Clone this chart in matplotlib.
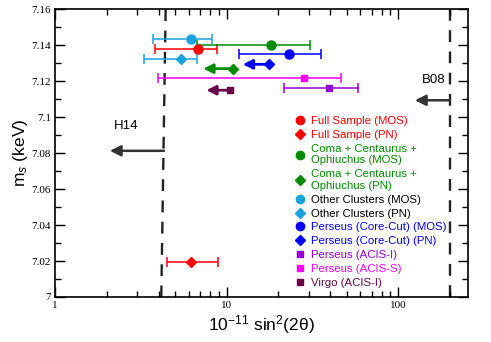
import numpy as np
import matplotlib
matplotlib.use("Agg")
import matplotlib.pyplot as plt
from matplotlib.lines import Line2D
from matplotlib.ticker import FixedLocator, MultipleLocator, NullFormatter

plt.rcParams["mathtext.fontset"] = "custom"
plt.rcParams["mathtext.rm"] = "Liberation Sans"
plt.rcParams["mathtext.it"] = "Liberation Sans:italic"

# --- data ---
labels = ["Full Sample (MOS)", "Full Sample (PN)",
          "Coma + Centaurus +\nOphiuchus (MOS)", "Coma + Centaurus +\nOphiuchus (PN)",
          "Other Clusters (MOS)", "Other Clusters (PN)",
          "Perseus (Core-Cut) (MOS)", "Perseus (Core-Cut) (PN)",
          "Perseus (ACIS-I)", "Perseus (ACIS-S)", "Virgo (ACIS-I)"]
mixing = [6.77, 6.16, 18.1, 10.9, 6.16, 5.38, 23.2, 17.7, 39.6, 28.2, 10.4]
mass = [7.1378, 7.0195, 7.1400, 7.1270, 7.1435, 7.1326, 7.1350, 7.1294, 7.1163, 7.1218, 7.1150]
err_lo = [3.81, 4.46, 6.67, np.nan, 3.70, 3.30, 11.8, np.nan, 21.6, 3.99, np.nan]
err_hi = [8.77, 8.85, 30.6, np.nan, 8.23, 6.67, 35.6, np.nan, 58.5, 46.1, np.nan]
limit_tip = [np.nan, np.nan, np.nan, 7.3, np.nan, np.nan, np.nan, 12.4, np.nan, np.nan, 7.6]
markers = ["o", "D", "o", "D", "o", "D", "o", "D", "s", "s", "s"]
colors = ["#ff0000", "#ff0000", "#008b00", "#008b00", "#1aa3dc", "#1aa3dc",
          "#0000ff", "#0000ff", "#9400d3", "#ff00ff", "#670748"]
text_colors = ["#ff0000", "#ff0000", "#008b00", "#008b00", "#000000", "#000000",
               "#0000ff", "#0000ff", "#9400d3", "#ff00ff", "#670748"]

# previous bounds (dashed lines)
h14_line_x = [4.4, 4.15]
h14_line_y = [7.16, 7.0]
b08_x = 200
h14_arrow = [(4.3, 7.0813), (2.08, 7.0813)]
b08_arrow = [(200, 7.1094), (125, 7.1094)]

fig = plt.figure(figsize=(4.91, 3.42), dpi=100)
ax = fig.add_axes([0.1126, 0.1316, 0.8412, 0.8412])

for i in range(len(labels)):
    ms = 6.5 if markers[i] == "o" else (5.5 if markers[i] == "D" else 4.8)
    if not np.isnan(err_lo[i]):
        xerr = [[mixing[i] - err_lo[i]], [err_hi[i] - mixing[i]]]
        ax.errorbar(mixing[i], mass[i], xerr=xerr, fmt=markers[i], color=colors[i],
                    ms=ms, elinewidth=1.1, capsize=3.5, capthick=1.1, zorder=3)
    else:
        ax.plot(mixing[i], mass[i], markers[i], color=colors[i], ms=ms, zorder=3)
        ax.annotate("", xy=(limit_tip[i], mass[i]), xytext=(mixing[i], mass[i]),
                    arrowprops=dict(arrowstyle="-|>", color=colors[i], lw=2,
                                    mutation_scale=14, shrinkA=0, shrinkB=0), zorder=2)

ax.plot(h14_line_x, h14_line_y, color="#222222", lw=1.7, dashes=(5, 4), zorder=1)
ax.axvline(b08_x, color="#222222", lw=1.7, dashes=(5, 4), zorder=1)
for (x0, y0), (x1, y1) in [h14_arrow, b08_arrow]:
    ax.annotate("", xy=(x1, y1), xytext=(x0, y0),
                arrowprops=dict(arrowstyle="-|>", color="#333333", lw=1.8,
                                mutation_scale=16, shrinkA=0, shrinkB=0))
ax.text(2.58, 7.095, "H14", fontsize=9.5, family="Liberation Sans", ha="center", va="center")
ax.text(161, 7.1206, "B08", fontsize=9.5, family="Liberation Sans", ha="center", va="center")

ax.set_xscale("log")
ax.set_xlim(1, 256)
ax.set_ylim(7.0, 7.16)
ax.xaxis.set_major_locator(FixedLocator([1, 10, 100]))
ax.set_xticklabels(["1", "10", "100"])
ax.xaxis.set_minor_formatter(NullFormatter())
ax.yaxis.set_major_locator(MultipleLocator(0.02))
ax.yaxis.set_minor_locator(MultipleLocator(0.01))
ax.set_yticks(np.arange(7.0, 7.1601, 0.02))
ax.set_yticklabels(["7", "7.02", "7.04", "7.06", "7.08", "7.1", "7.12", "7.14", "7.16"])
ax.tick_params(which="both", direction="in", top=True, right=True,
               labelsize=8, labelfontfamily="Liberation Serif", pad=3)
ax.tick_params(which="major", length=7, width=1)
ax.tick_params(which="minor", length=4, width=1)
for s in ax.spines.values():
    s.set_linewidth(1.2)

ax.set_xlabel("10$^{-11}$ sin$^{2}$(2θ)", fontsize=12.5, family="Liberation Sans", labelpad=2)
ax.set_ylabel("m$_{s}$ (keV)", fontsize=12.5, family="Liberation Sans", labelpad=1)

handles = [Line2D([], [], ls="none", marker=markers[i], color=colors[i],
                  ms=(6 if markers[i] == "o" else (5.5 if markers[i] == "D" else 4.5)))
           for i in range(len(labels))]
leg = ax.legend(handles, labels, loc="upper left", bbox_to_anchor=(0.57, 0.645),
                frameon=False, handlelength=0.8, handletextpad=0.55, labelspacing=0.34,
                borderaxespad=0, prop={"family": "Liberation Sans", "size": 8.2})
for t, c in zip(leg.get_texts(), text_colors):
    t.set_color(c)

fig.savefig("out.png", dpi=100)
